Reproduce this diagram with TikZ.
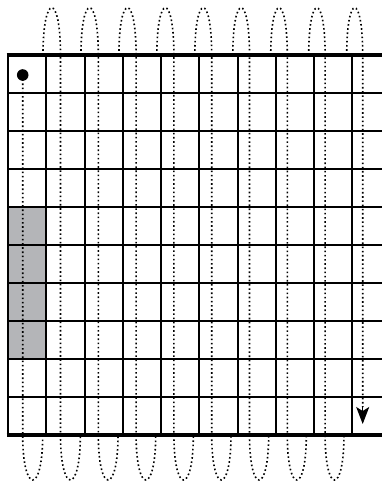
\documentclass[tikz,border=0pt]{standalone}
\usetikzlibrary{arrows.meta}
\definecolor{cellgray}{RGB}{180,181,184}

\begin{document}
\begin{tikzpicture}[x=1pt, y=-1pt,
    gridline/.style={line width=2pt},
    border/.style={line width=3.2pt},
    dotpath/.style={line width=1.6pt, dash pattern=on 1.6pt off 2.6pt}]
        \clip (0,0) rectangle (382,485);
        % shaded cells
        \fill[cellgray] (8,207) rectangle (46.3,359);
        % grid
        \foreach \j in {1,...,9}
            \draw[gridline] (8,55+38*\j) -- (390,55+38*\j);
        \foreach \k in {0,...,9}
            \draw[gridline] (8+38.27*\k,55) -- (8+38.27*\k,435);
        \draw[border] (6.6,55) -- (390,55);
        \draw[border] (6.6,435) -- (390,435);
        % start of the path
        \fill (22.7,75) circle (5.8);
        \draw[dotpath] (22.7,75) -- (22.7,435)
            .. controls (22.7,495) and (42.7,495) .. (42.7,435);
        % loops round the sheet
        \foreach \k in {1,...,8} {
            \pgfmathsetmacro{\tx}{43+37.96*(\k-1)}
            \pgfmathsetmacro{\fx}{22.7+37.8*\k}
            \pgfmathsetmacro{\hx}{42.7+37.66*\k}
            \draw[dotpath] (\tx,55) .. controls (\tx,-8) and (\fx,-8) .. (\fx,55)
                -- (\fx,435) .. controls (\fx,495) and (\hx,495) .. (\hx,435);
        }
        \draw[dotpath] (346.7,55) .. controls (346.7,-8) and (362.7,-8) .. (362.7,55)
            -- (362.7,407);
        \draw[line width=1.2pt, -{Stealth[length=17pt,width=13pt,inset=4pt]}] (362.7,406) -- (362.7,424);
    \end{tikzpicture}
\end{document}
